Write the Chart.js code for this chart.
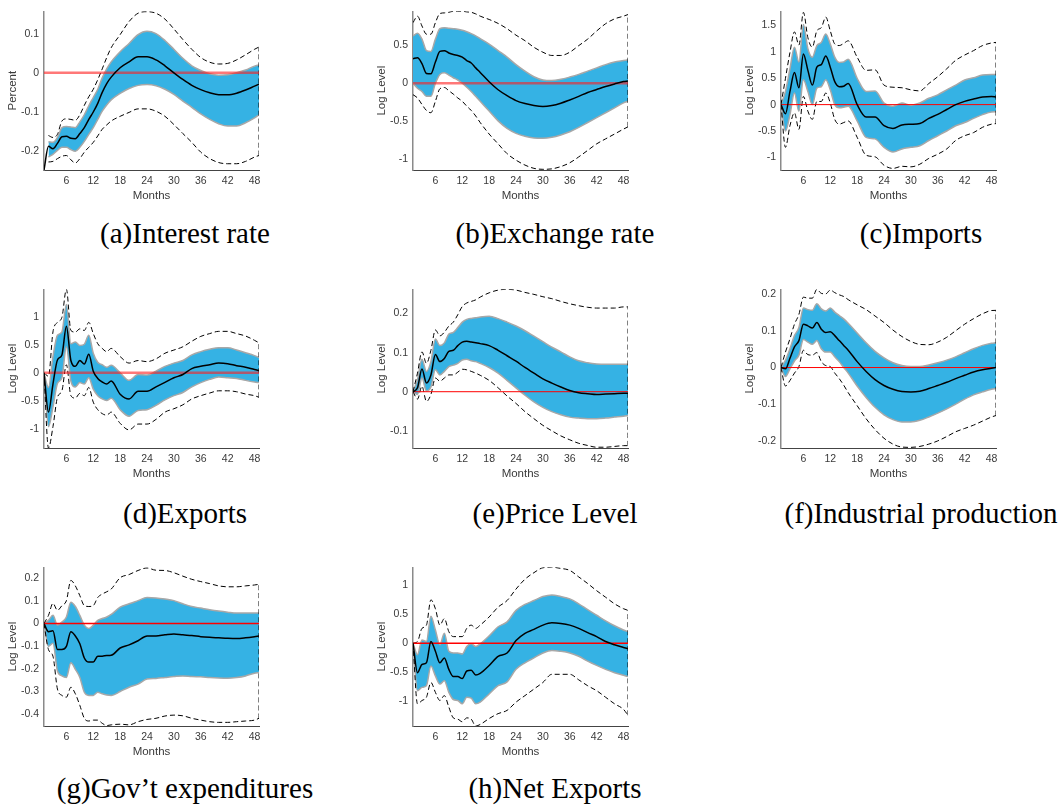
<!DOCTYPE html>
<html>
<head>
<meta charset="utf-8">
<title>Impulse responses</title>
<script src="https://cdn.jsdelivr.net/npm/chart.js@4.4.1/dist/chart.umd.min.js"></script>
<style>
  html, body { margin: 0; padding: 0; background: #fff; }
  body { width: 1062px; height: 805px; position: relative; overflow: hidden; }
  canvas.panel { position: absolute; }
  .caption {
    position: absolute;
    font-family: 'Liberation Serif', 'Times New Roman', serif;
    font-size: 29px;
    line-height: 29px;
    white-space: nowrap;
    transform: translateX(-50%);
    color: #000;
  }
</style>
</head>
<body>
<script>
// ---- Shared axis values ----
const MONTHS = [1, 2, 3, 4, 5, 6, 7, 8, 9, 10, 11, 12, 13, 14, 15, 16,
  18, 20, 22, 24, 26, 28, 30, 32, 34, 36, 38, 40, 42, 44, 46, 48, 49];
const X_RANGE = [1, 49];
const X_TICKS = [6, 12, 18, 24, 30, 36, 42, 48];

// ---- (a) Interest rate ----
const aMedian = [-0.248, -0.1875, -0.194, -0.18, -0.163, -0.162, -0.167, -0.168, -0.155, -0.14, -0.119, -0.10, -0.078, -0.05, -0.0275, -0.011,
  0.013, 0.028, 0.041, 0.041, 0.033, 0.018, 0, -0.017, -0.032, -0.043, -0.051, -0.056, -0.056, -0.052, -0.044, -0.034, -0.029];
const aBandHi = [null, -0.176, -0.1775, -0.165, -0.14, -0.137, -0.138, -0.14, -0.125, -0.107, -0.084, -0.063, -0.042, -0.013, 0.01, 0.028,
  0.054, 0.075, 0.0975, 0.106, 0.1, 0.0825, 0.06, 0.037, 0.018, 0.006, -0.0025, -0.006, -0.005, 0, 0.007, 0.017, 0.02];
const aBandLo = [null, -0.215, -0.208, -0.198, -0.19, -0.19, -0.196, -0.2, -0.19, -0.175, -0.157, -0.14, -0.119, -0.098, -0.082, -0.069,
  -0.0525, -0.04, -0.032, -0.03, -0.033, -0.042, -0.055, -0.072, -0.088, -0.105, -0.119, -0.13, -0.136, -0.136, -0.1275, -0.115, -0.107];
const aOuterHi = [null, -0.16, -0.165, -0.157, -0.123, -0.1175, -0.119, -0.121, -0.107, -0.083, -0.061, -0.042, -0.0175, 0.01, 0.039, 0.064,
  0.0975, 0.131, 0.152, 0.156, 0.152, 0.137, 0.112, 0.085, 0.06, 0.039, 0.027, 0.0225, 0.024, 0.033, 0.046, 0.06, 0.066];
const aOuterLo = [null, -0.2275, -0.226, -0.219, -0.213, -0.211, -0.222, -0.23, -0.219, -0.2025, -0.19, -0.1775, -0.161, -0.144, -0.133, -0.123,
  -0.111, -0.101, -0.092, -0.092, -0.098, -0.111, -0.132, -0.155, -0.1775, -0.2025, -0.219, -0.229, -0.232, -0.232, -0.226, -0.215, -0.211];
const aYTicks = [-0.2, -0.1, 0, 0.1];
const aYRange = [-0.248, 0.157];

// ---- (b) Exchange rate ----
const bMedian = [0.324, 0.337, 0.26, 0.13, 0.125, 0.28, 0.42, 0.43, 0.40, 0.38, 0.367, 0.346, 0.30, 0.268, 0.203, 0.143,
  0.02, -0.086, -0.164, -0.229, -0.268, -0.294, -0.307, -0.294, -0.263, -0.22, -0.173, -0.121, -0.082, -0.043, -0.009, 0.022, 0.03];
const bBandHi = [0.626, 0.66, 0.583, 0.432, 0.42, 0.583, 0.72, 0.734, 0.726, 0.72, 0.713, 0.70, 0.68, 0.656, 0.626, 0.59,
  0.518, 0.432, 0.346, 0.246, 0.16, 0.086, 0.043, 0.035, 0.052, 0.082, 0.117, 0.16, 0.203, 0.246, 0.28, 0.30, 0.31];
const bBandLo = [0.0, -0.065, -0.108, -0.173, -0.173, 0, 0.117, 0.138, 0.108, 0.073, 0.043, 0, -0.052, -0.108, -0.173, -0.238,
  -0.367, -0.497, -0.596, -0.661, -0.70, -0.721, -0.726, -0.713, -0.682, -0.64, -0.583, -0.518, -0.454, -0.389, -0.324, -0.259, -0.238];
const bOuterHi = [0.80, 0.886, 0.756, 0.648, 0.648, 0.80, 0.92, 0.929, 0.937, 0.95, 0.95, 0.95, 0.942, 0.937, 0.916, 0.886,
  0.842, 0.79, 0.72, 0.635, 0.562, 0.475, 0.41, 0.367, 0.367, 0.41, 0.497, 0.583, 0.69, 0.786, 0.85, 0.886, 0.907];
const bOuterLo = [-0.151, -0.194, -0.28, -0.359, -0.389, -0.238, -0.073, -0.056, -0.099, -0.143, -0.194, -0.238, -0.302, -0.359, -0.432, -0.518,
  -0.67, -0.80, -0.929, -1.015, -1.08, -1.123, -1.136, -1.13, -1.10, -1.05, -0.972, -0.886, -0.80, -0.734, -0.67, -0.605, -0.575];
const bYTicks = [-1, -0.5, 0, 0.5];
const bYRange = [-1.145, 0.95];

// ---- (c) Imports ----
const cMedian = [0, -0.174, 0.25, 0.61, 0.32, 0.96, 0.65, 0.37, 0.71, 0.76, 0.92, 0.71, 0.435, 0.34, 0.35, 0.40,
  0, -0.236, -0.236, -0.40, -0.453, -0.385, -0.373, -0.36, -0.26, -0.186, -0.093, 0, 0.062, 0.105, 0.143, 0.155, 0.143];
const cBandHi = [0, 0.25, 0.68, 1.09, 0.81, 1.52, 1.06, 0.90, 1.12, 1.18, 1.34, 1.15, 0.90, 0.80, 0.81, 0.86,
  0.50, 0.25, 0.26, 0.03, -0.03, 0.03, -0.01, 0.03, 0.12, 0.186, 0.28, 0.37, 0.466, 0.51, 0.56, 0.57, 0.57];
const cBandLo = [0, -0.5, -0.19, 0.22, -0.124, 0.47, 0.25, 0, 0.31, 0.34, 0.47, 0.28, 0, -0.06, -0.05, -0.03,
  -0.31, -0.62, -0.65, -0.81, -0.90, -0.84, -0.81, -0.78, -0.68, -0.59, -0.50, -0.40, -0.34, -0.26, -0.19, -0.14, -0.137];
const cOuterHi = [0, 0.5, 0.99, 1.38, 1.13, 1.75, 1.27, 1.09, 1.40, 1.46, 1.66, 1.40, 1.15, 1.12, 1.16, 1.21,
  0.90, 0.65, 0.66, 0.37, 0.33, 0.32, 0.28, 0.26, 0.40, 0.53, 0.68, 0.84, 0.94, 1.025, 1.12, 1.17, 1.18];
const cOuterLo = [0, -0.81, -0.40, -0.155, -0.47, 0.155, -0.124, -0.28, 0.06, 0.06, 0.22, 0.03, -0.28, -0.37, -0.34, -0.31,
  -0.62, -0.96, -0.99, -1.15, -1.21, -1.17, -1.18, -1.13, -1.02, -0.94, -0.84, -0.68, -0.59, -0.53, -0.43, -0.37, -0.36];
const cYTicks = [-1, -0.5, 0, 0.5, 1, 1.5];
const cYRange = [-1.24, 1.77];

// ---- (d) Exports ----
const dMedian = [0, -0.70, -0.20, 0.23, 0.32, 0.83, 0.22, 0.116, 0.22, 0.157, 0.33, 0.03, -0.10, -0.163, -0.20, -0.145,
  -0.38, -0.465, -0.33, -0.33, -0.25, -0.17, -0.087, -0.03, 0.076, 0.116, 0.145, 0.174, 0.163, 0.128, 0.1, 0.058, 0.04];
const dBandHi = [0, -0.26, 0.29, 0.67, 0.73, 1.22, 0.52, 0.55, 0.49, 0.51, 0.67, 0.35, 0.19, 0.145, 0.1, 0.134,
  0, -0.134, -0.03, -0.04, 0.03, 0.116, 0.174, 0.22, 0.32, 0.378, 0.42, 0.448, 0.448, 0.407, 0.36, 0.308, 0.273];
const dBandLo = [0, -0.96, -0.61, -0.19, -0.087, 0.465, -0.145, -0.25, -0.174, -0.20, -0.087, -0.29, -0.407, -0.465, -0.494, -0.453,
  -0.657, -0.773, -0.67, -0.657, -0.58, -0.483, -0.407, -0.35, -0.25, -0.174, -0.116, -0.076, -0.087, -0.099, -0.134, -0.163, -0.174];
const dOuterHi = [0, -0.06, 0.73, 0.90, 0.99, 1.49, 0.756, 0.727, 0.785, 0.756, 0.90, 0.70, 0.52, 0.436, 0.378, 0.436,
  0.29, 0.174, 0.22, 0.20, 0.25, 0.35, 0.407, 0.465, 0.564, 0.65, 0.70, 0.74, 0.74, 0.70, 0.657, 0.58, 0.535];
const dOuterLo = [0, -1.34, -0.96, -0.436, -0.32, 0.145, -0.407, -0.45, -0.366, -0.407, -0.26, -0.523, -0.657, -0.727, -0.756, -0.70,
  -0.90, -1.017, -0.913, -0.913, -0.83, -0.70, -0.64, -0.57, -0.465, -0.407, -0.36, -0.32, -0.32, -0.337, -0.378, -0.407, -0.436];
const dYTicks = [-1, -0.5, 0, 0.5, 1];
const dYRange = [-1.34, 1.49];

// ---- (e) Price Level ----
const eMedian = [0, 0.01, 0.058, 0.0225, 0.043, 0.095, 0.077, 0.085, 0.103, 0.106, 0.118, 0.127, 0.129, 0.127, 0.125, 0.123,
  0.118, 0.106, 0.092, 0.078, 0.062, 0.0475, 0.033, 0.022, 0.012, 0.003, -0.0025, -0.005, -0.007, -0.006, -0.005, -0.004, -0.004];
const eBandHi = [0, 0.031, 0.083, 0.052, 0.077, 0.135, 0.118, 0.125, 0.1475, 0.152, 0.164, 0.178, 0.185, 0.1875, 0.189, 0.191,
  0.193, 0.187, 0.178, 0.168, 0.156, 0.142, 0.128, 0.114, 0.102, 0.089, 0.079, 0.074, 0.071, 0.07, 0.07, 0.07, 0.07];
const eBandLo = [0, -0.007, 0.035, 0.002, 0.012, 0.056, 0.043, 0.052, 0.064, 0.068, 0.0725, 0.081, 0.083, 0.079, 0.077, 0.0725,
  0.062, 0.0475, 0.029, 0.01, -0.009, -0.026, -0.04, -0.051, -0.059, -0.065, -0.0675, -0.069, -0.069, -0.0675, -0.065, -0.0625, -0.061];
const eOuterHi = [0, 0.0475, 0.102, 0.0725, 0.106, 0.158, 0.143, 0.152, 0.168, 0.178, 0.197, 0.218, 0.227, 0.231, 0.235, 0.242,
  0.253, 0.26, 0.262, 0.26, 0.254, 0.249, 0.243, 0.238, 0.231, 0.225, 0.22, 0.216, 0.214, 0.214, 0.214, 0.217, 0.217];
const eOuterLo = [0, -0.019, 0.014, -0.025, -0.007, 0.035, 0.027, 0.035, 0.043, 0.043, 0.05, 0.0575, 0.056, 0.052, 0.0475, 0.042,
  0.029, 0.01, -0.011, -0.03, -0.051, -0.069, -0.086, -0.1, -0.113, -0.123, -0.132, -0.1375, -0.142, -0.142, -0.14, -0.138, -0.138];
const eYTicks = [-0.1, 0, 0.1, 0.2];
const eYRange = [-0.144, 0.262];

// ---- (f) Industrial production ----
const fMedian = [0, -0.0035, 0.025, 0.056, 0.073, 0.1175, 0.113, 0.107, 0.122, 0.104, 0.095, 0.097, 0.0865, 0.073, 0.06, 0.047,
  0.016, -0.0106, -0.0327, -0.0486, -0.059, -0.065, -0.066, -0.064, -0.057, -0.0486, -0.04, -0.03, -0.021, -0.012, -0.006, -0.002, 0];
const fBandHi = [0, 0.02, 0.051, 0.0865, 0.1086, 0.1616, 0.157, 0.155, 0.173, 0.159, 0.153, 0.1616, 0.15, 0.141, 0.132, 0.12,
  0.0936, 0.067, 0.044, 0.0265, 0.013, 0.0053, 0.0026, 0.0026, 0.007, 0.013, 0.02, 0.029, 0.04, 0.051, 0.06, 0.066, 0.067];
const fBandLo = [0, -0.024, -0.0035, 0.0177, 0.0336, 0.076, 0.069, 0.063, 0.073, 0.051, 0.042, 0.042, 0.029, 0.016, 0, -0.015,
  -0.05, -0.081, -0.1077, -0.128, -0.141, -0.1475, -0.1475, -0.143, -0.134, -0.1236, -0.112, -0.099, -0.0856, -0.074, -0.066, -0.059, -0.057];
const fOuterHi = [0, 0.042, 0.078, 0.1174, 0.144, 0.1907, 0.188, 0.188, 0.212, 0.201, 0.1996, 0.21, 0.203, 0.197, 0.1925, 0.184,
  0.17, 0.157, 0.1395, 0.122, 0.1015, 0.084, 0.0706, 0.0627, 0.0618, 0.069, 0.082, 0.0998, 0.1174, 0.1325, 0.1457, 0.1545, 0.155];
const fOuterLo = [0, -0.05, -0.035, -0.015, 0.0026, 0.0468, 0.035, 0.0336, 0.0406, 0.016, 0.0053, 0.0026, -0.015, -0.03, -0.0477, -0.068,
  -0.1033, -0.1386, -0.168, -0.1916, -0.2075, -0.2154, -0.2163, -0.2137, -0.2075, -0.1987, -0.187, -0.174, -0.165, -0.156, -0.145, -0.134, -0.13];
const fYTicks = [-0.2, -0.1, 0, 0.1, 0.2];
const fYRange = [-0.218, 0.212];

// ---- (g) Gov't expenditures ----
const gMedian = [0, -0.036, -0.032, -0.115, -0.115, -0.101, -0.036, -0.055, -0.089, -0.152, -0.17, -0.17, -0.144, -0.144, -0.141, -0.14,
  -0.108, -0.094, -0.076, -0.055, -0.055, -0.05, -0.046, -0.05, -0.053, -0.058, -0.061, -0.063, -0.065, -0.066, -0.063, -0.058, -0.055];
const gBandHi = [0, 0.014, 0.036, -0.007, 0.007, 0.029, 0.094, 0.075, 0.036, -0.007, -0.022, -0.007, 0.014, 0.022, 0.029, 0.04,
  0.072, 0.087, 0.101, 0.115, 0.113, 0.108, 0.101, 0.087, 0.075, 0.068, 0.061, 0.055, 0.05, 0.046, 0.046, 0.046, 0.046];
const gBandLo = [0, -0.101, -0.087, -0.209, -0.231, -0.238, -0.173, -0.202, -0.238, -0.303, -0.317, -0.317, -0.303, -0.31, -0.315, -0.317,
  -0.3, -0.281, -0.267, -0.245, -0.242, -0.238, -0.234, -0.231, -0.234, -0.235, -0.238, -0.24, -0.241, -0.238, -0.231, -0.219, -0.216];
const gOuterHi = [0, 0.036, 0.089, 0.058, 0.079, 0.101, 0.19, 0.166, 0.123, 0.079, 0.075, 0.079, 0.115, 0.13, 0.14, 0.152,
  0.202, 0.216, 0.234, 0.245, 0.235, 0.234, 0.224, 0.209, 0.195, 0.185, 0.176, 0.166, 0.162, 0.162, 0.166, 0.17, 0.173];
const gOuterLo = [0, -0.115, -0.144, -0.289, -0.317, -0.325, -0.281, -0.31, -0.361, -0.418, -0.43, -0.426, -0.426, -0.44, -0.45, -0.447,
  -0.444, -0.447, -0.433, -0.423, -0.418, -0.408, -0.404, -0.407, -0.418, -0.426, -0.433, -0.436, -0.436, -0.433, -0.43, -0.426, -0.418];
const gYTicks = [-0.4, -0.3, -0.2, -0.1, 0, 0.1, 0.2];
const gYRange = [-0.452, 0.248];

// ---- (h) Net Exports ----
const hMedian = [0, -0.506, -0.365, -0.337, 0.028, -0.14, -0.337, -0.253, -0.45, -0.573, -0.573, -0.607, -0.478, -0.466, -0.545, -0.517,
  -0.382, -0.225, -0.169, 0.045, 0.169, 0.236, 0.309, 0.348, 0.337, 0.309, 0.253, 0.18, 0.112, 0.028, -0.028, -0.073, -0.096];
const hBandHi = [0, -0.197, 0.056, 0.028, 0.46, 0.225, -0.028, 0.169, -0.14, -0.169, -0.169, -0.185, -0.056, -0.011, -0.056, -0.011,
  0.124, 0.281, 0.365, 0.562, 0.663, 0.73, 0.798, 0.826, 0.798, 0.758, 0.674, 0.573, 0.478, 0.382, 0.298, 0.225, 0.197];
const hBandLo = [0, -0.815, -0.758, -0.73, -0.393, -0.562, -0.702, -0.646, -0.843, -0.966, -0.983, -1.04, -0.927, -0.944, -1.04, -1.011,
  -0.871, -0.73, -0.663, -0.449, -0.337, -0.253, -0.169, -0.124, -0.14, -0.169, -0.225, -0.309, -0.382, -0.449, -0.506, -0.551, -0.573];
const hOuterHi = [0, 0.028, 0.253, 0.309, 0.742, 0.59, 0.309, 0.421, 0.197, 0.112, 0.112, 0.112, 0.253, 0.309, 0.253, 0.309,
  0.449, 0.618, 0.73, 0.927, 1.096, 1.208, 1.292, 1.303, 1.281, 1.247, 1.135, 1.022, 0.899, 0.787, 0.674, 0.59, 0.562];
const hOuterLo = [0, -1.04, -0.983, -0.927, -0.674, -0.843, -0.983, -0.899, -1.096, -1.281, -1.303, -1.348, -1.281, -1.303, -1.42, -1.393,
  -1.292, -1.208, -1.152, -1.011, -0.899, -0.787, -0.674, -0.534, -0.534, -0.534, -0.629, -0.73, -0.815, -0.927, -1.04, -1.135, -1.236];
const hYTicks = [-1, -0.5, 0, 0.5, 1];
const hYRange = [-1.42, 1.30];

(() => {
  // ---- Layout (page pixels) ----
  const PLOT_W = 215;
  const PLOT_H = 162;
  const Y_BOX = 38;     // room for y tick labels + title
  const X_BOX = 33;     // room for x tick labels + title
  const PAD = 8;
  const COL_LEFT = [44, 413, 781];
  const ROW_TOP = [8, 286, 564];
  const CAP_CENTER = [185, 555, 921];
  const CAP_TOP = [219, 499, 774];

  // ---- Styles ----
  const BAND = '#35b2e4';
  const BAND_EDGE = '#a8a8a8';
  const TEXT = '#3a3a3a';
  const SANS = "'Liberation Sans', Arial, Helvetica, sans-serif";
  const ZERO = {
    soft: { color: 'rgba(255, 30, 30, 0.6)', width: 2.5 },
    thin: { color: '#ff0000', width: 1 },
    mid: { color: '#ff0000', width: 1.5 }
  };

  const panels = [
    { col: 0, row: 0, caption: '(a)Interest rate', yLabel: 'Percent', med: aMedian, hi: aBandHi, lo: aBandLo, outHi: aOuterHi, outLo: aOuterLo, ticks: aYTicks, range: aYRange, zero: 'soft' },
    { col: 1, row: 0, caption: '(b)Exchange rate', yLabel: 'Log Level', med: bMedian, hi: bBandHi, lo: bBandLo, outHi: bOuterHi, outLo: bOuterLo, ticks: bYTicks, range: bYRange, zero: 'soft' },
    { col: 2, row: 0, caption: '(c)Imports', yLabel: 'Log Level', med: cMedian, hi: cBandHi, lo: cBandLo, outHi: cOuterHi, outLo: cOuterLo, ticks: cYTicks, range: cYRange, zero: 'thin' },
    { col: 0, row: 1, caption: '(d)Exports', yLabel: 'Log Level', med: dMedian, hi: dBandHi, lo: dBandLo, outHi: dOuterHi, outLo: dOuterLo, ticks: dYTicks, range: dYRange, zero: 'soft' },
    { col: 1, row: 1, caption: '(e)Price Level', yLabel: 'Log Level', med: eMedian, hi: eBandHi, lo: eBandLo, outHi: eOuterHi, outLo: eOuterLo, ticks: eYTicks, range: eYRange, zero: 'thin' },
    { col: 2, row: 1, caption: '(f)Industrial production', yLabel: 'Log Level', med: fMedian, hi: fBandHi, lo: fBandLo, outHi: fOuterHi, outLo: fOuterLo, ticks: fYTicks, range: fYRange, zero: 'thin' },
    { col: 0, row: 2, caption: '(g)Gov\u2019t expenditures', yLabel: 'Log Level', med: gMedian, hi: gBandHi, lo: gBandLo, outHi: gOuterHi, outLo: gOuterLo, ticks: gYTicks, range: gYRange, zero: 'mid' },
    { col: 1, row: 2, caption: '(h)Net Exports', yLabel: 'Log Level', med: hMedian, hi: hBandHi, lo: hBandLo, outHi: hOuterHi, outLo: hOuterLo, ticks: hYTicks, range: hYRange, zero: 'mid' }
  ];

  const toPoints = (xs, ys) => xs.map((x, i) => ({ x, y: ys[i] }));
  const fmtTick = (v) => String(v);

  function dashed(data) {
    return { data, borderColor: '#000', borderWidth: 1, borderDash: [5, 3], order: 2 };
  }

  function renderPanel(p) {
    const canvas = document.createElement('canvas');
    canvas.className = 'panel';
    canvas.width = Y_BOX + PLOT_W + PAD;
    canvas.height = PAD + PLOT_H + X_BOX;
    canvas.style.left = (COL_LEFT[p.col] - Y_BOX) + 'px';
    canvas.style.top = (ROW_TOP[p.row] - PAD) + 'px';
    document.body.appendChild(canvas);

    const last = MONTHS.length - 1;
    const zero = ZERO[p.zero];

    const datasets = [
      { data: toPoints(MONTHS, p.med), borderColor: '#000', borderWidth: 1.5, order: 0 },
      { data: [{ x: X_RANGE[0], y: 0 }, { x: X_RANGE[1], y: 0 }], borderColor: zero.color, borderWidth: zero.width, order: 1 },
      dashed(toPoints(MONTHS, p.outHi)),
      dashed(toPoints(MONTHS, p.outLo)),
      dashed([{ x: MONTHS[last], y: p.outLo[last] }, { x: MONTHS[last], y: p.outHi[last] }]),
      { data: toPoints(MONTHS, p.hi), borderColor: BAND_EDGE, borderWidth: 1.5, backgroundColor: BAND, fill: '+1', order: 5 },
      { data: toPoints(MONTHS, p.lo), borderColor: BAND_EDGE, borderWidth: 1.5, fill: false, order: 5 }
    ];

    new Chart(canvas.getContext('2d'), {
      type: 'line',
      data: { datasets },
      options: {
        responsive: false,
        animation: false,
        events: [],
        layout: { padding: { left: 0, top: PAD, right: PAD, bottom: 0 } },
        elements: {
          point: { radius: 0 },
          line: { cubicInterpolationMode: 'monotone', fill: false }
        },
        plugins: {
          legend: { display: false },
          tooltip: { enabled: false },
          filler: { drawTime: 'beforeDatasetsDraw' }
        },
        scales: {
          x: {
            type: 'linear',
            min: X_RANGE[0],
            max: X_RANGE[1],
            afterBuildTicks: (s) => { s.ticks = X_TICKS.map(v => ({ value: v })); },
            afterFit: (s) => { s.height = X_BOX; },
            grid: { drawOnChartArea: false, drawTicks: false },
            border: { color: '#444', width: 1 },
            ticks: { color: TEXT, font: { family: SANS, size: 10.5 }, padding: 5, maxRotation: 0, autoSkip: false, callback: fmtTick },
            title: { display: true, text: 'Months', color: TEXT, font: { family: SANS, size: 11.5 }, padding: { top: 0, bottom: 0 } }
          },
          y: {
            type: 'linear',
            min: p.range[0],
            max: p.range[1],
            afterBuildTicks: (s) => { s.ticks = p.ticks.map(v => ({ value: v })); },
            afterFit: (s) => { s.width = Y_BOX; },
            grid: { drawOnChartArea: false, drawTicks: false },
            border: { color: '#8a8a8a', width: 1.5 },
            ticks: { color: TEXT, font: { family: SANS, size: 10.5 }, padding: 5, autoSkip: false, callback: fmtTick },
            title: { display: true, text: p.yLabel, color: TEXT, font: { family: SANS, size: 11.5 }, padding: { top: 0, bottom: 0 } }
          }
        }
      }
    });

    const cap = document.createElement('div');
    cap.className = 'caption';
    cap.textContent = p.caption;
    cap.style.left = CAP_CENTER[p.col] + 'px';
    cap.style.top = CAP_TOP[p.row] + 'px';
    document.body.appendChild(cap);
  }

  panels.forEach(renderPanel);
})();
</script>
</body>
</html>
